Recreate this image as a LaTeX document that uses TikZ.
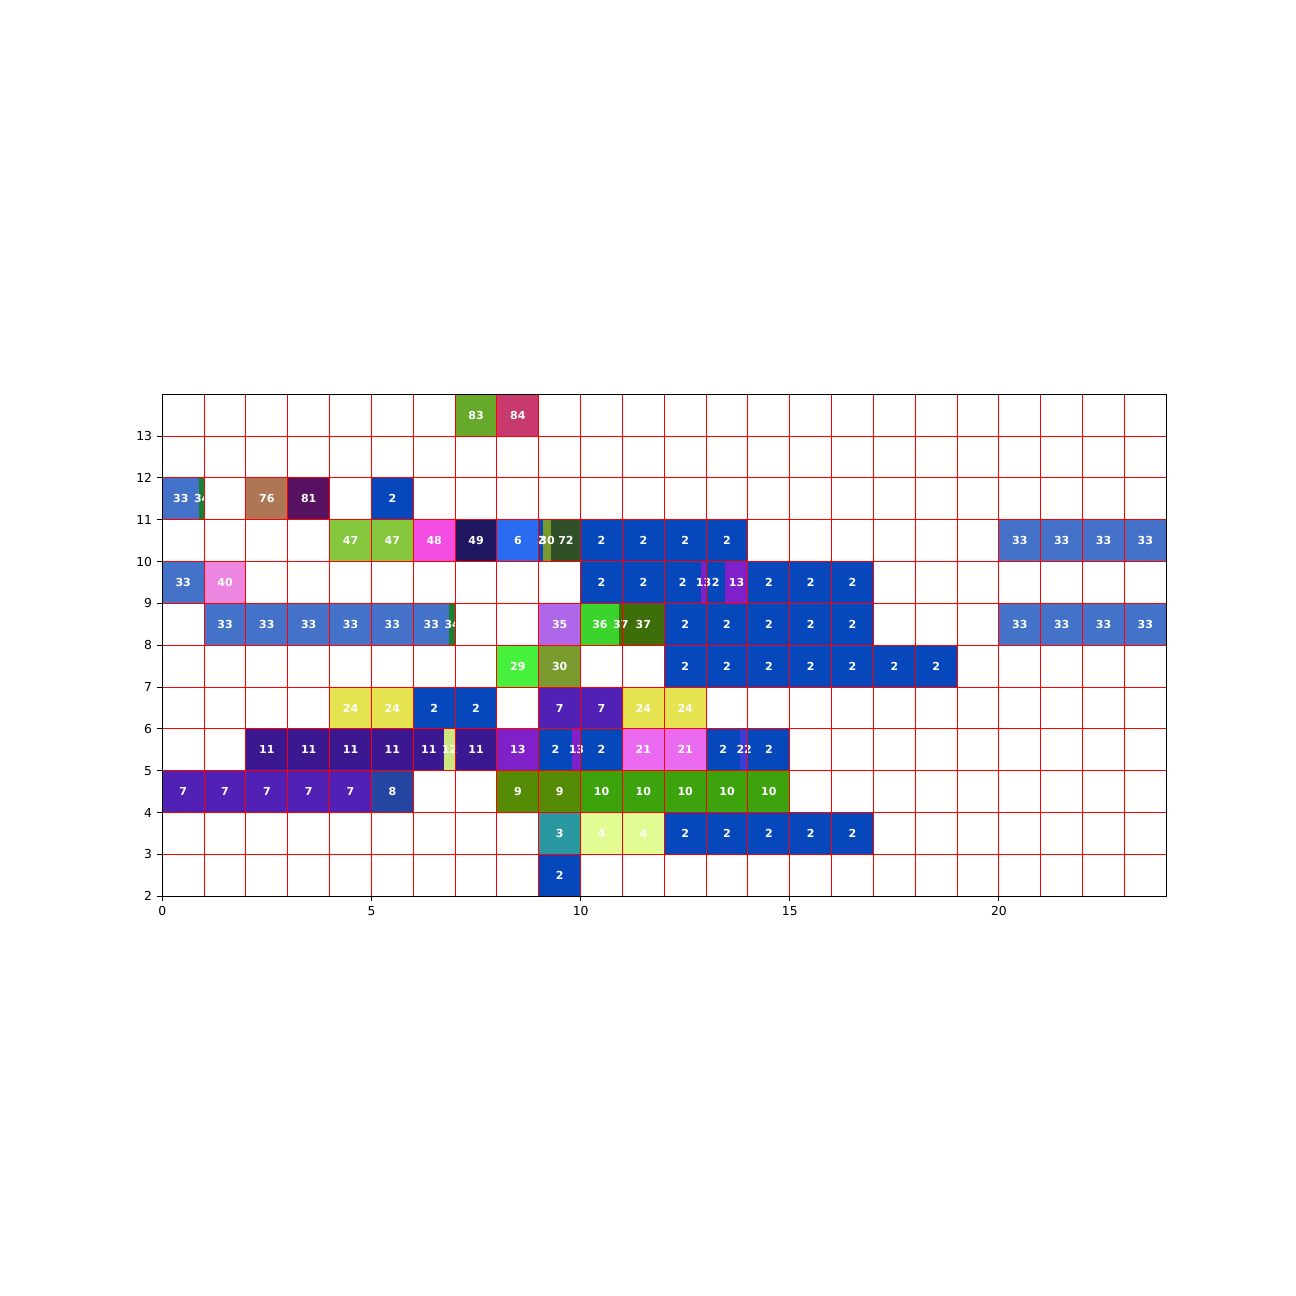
\documentclass[tikz,border=0pt]{standalone}
\usepackage{fontspec}
\setmainfont{DejaVu Sans}
\usetikzlibrary{positioning}

% cell colours, named after the number they carry
\definecolor{c2}{HTML}{0648BB}
\definecolor{c3}{HTML}{2A98A0}
\definecolor{c4}{HTML}{E3FB93}
\definecolor{c6}{HTML}{2B6BEF}
\definecolor{c7}{HTML}{5021B4}
\definecolor{c8}{HTML}{2446A0}
\definecolor{c9}{HTML}{568C05}
\definecolor{c10}{HTML}{3DA30D}
\definecolor{c11}{HTML}{3B1890}
\definecolor{c12}{HTML}{CDE682}
\definecolor{c13}{HTML}{7F20C8}
\definecolor{c21}{HTML}{EA6AF0}
\definecolor{c22}{HTML}{3A3ED8}
\definecolor{c24}{HTML}{E5E34F}
\definecolor{c29}{HTML}{48F03E}
\definecolor{c30}{HTML}{799A2E}
\definecolor{c33}{HTML}{4472C8}
\definecolor{c34}{HTML}{1B7F33}
\definecolor{c35}{HTML}{AF66E8}
\definecolor{c36}{HTML}{3AD42C}
\definecolor{c37}{HTML}{3E6E0A}
\definecolor{c40}{HTML}{ED86DE}
\definecolor{c47}{HTML}{84C63C}
\definecolor{c48}{HTML}{F24DE0}
\definecolor{c49}{HTML}{1E165E}
\definecolor{c72}{HTML}{305028}
\definecolor{c76}{HTML}{AE7655}
\definecolor{c81}{HTML}{561160}
\definecolor{c83}{HTML}{67A92A}
\definecolor{c84}{HTML}{C83A6E}

\pgfdeclarelayer{cells}
\pgfsetlayers{cells,main}

\begin{document}
\begin{tikzpicture}[
  lbl/.style={
    text=white,
    inner sep=0pt,
    font=\fontsize{7.5}{9}\selectfont\bfseries
  },
  gridline/.style={red, line width=0.7pt},
  frame/.style={black, line width=0.7pt},
  tick/.style={black, line width=0.7pt},
  ticklbl/.style={
    inner sep=0pt,
    font=\fontsize{8.4}{10}\selectfont
  }
]

\useasboundingbox (-3.88,-7.555) rectangle (27.10,23.426);
\begin{pgfonlayer}{cells}
  \fill[white] (-3.88,-7.555) rectangle (27.10,23.426);
\end{pgfonlayer}

% ============================================================
% Whole cells: x / y / colour / number
% ============================================================

\foreach \x/\y/\c/\t in {
  7/13/c83/83, 8/13/c84/84,
  2/11/c76/76, 3/11/c81/81, 5/11/c2/2,
  4/10/c47/47, 5/10/c47/47, 6/10/c48/48, 7/10/c49/49, 8/10/c6/6,
  10/10/c2/2, 11/10/c2/2, 12/10/c2/2, 13/10/c2/2,
  20/10/c33/33, 21/10/c33/33, 22/10/c33/33, 23/10/c33/33,
  0/9/c33/33, 1/9/c40/40, 10/9/c2/2, 11/9/c2/2,
  14/9/c2/2, 15/9/c2/2, 16/9/c2/2,
  1/8/c33/33, 2/8/c33/33, 3/8/c33/33, 4/8/c33/33, 5/8/c33/33,
  9/8/c35/35, 11/8/c37/37,
  12/8/c2/2, 13/8/c2/2, 14/8/c2/2, 15/8/c2/2, 16/8/c2/2,
  20/8/c33/33, 21/8/c33/33, 22/8/c33/33, 23/8/c33/33,
  8/7/c29/29, 9/7/c30/30,
  12/7/c2/2, 13/7/c2/2, 14/7/c2/2, 15/7/c2/2, 16/7/c2/2, 17/7/c2/2, 18/7/c2/2,
  4/6/c24/24, 5/6/c24/24, 6/6/c2/2, 7/6/c2/2,
  9/6/c7/7, 10/6/c7/7, 11/6/c24/24, 12/6/c24/24,
  2/5/c11/11, 3/5/c11/11, 4/5/c11/11, 5/5/c11/11, 7/5/c11/11,
  8/5/c13/13, 10/5/c2/2, 11/5/c21/21, 12/5/c21/21, 14/5/c2/2,
  0/4/c7/7, 1/4/c7/7, 2/4/c7/7, 3/4/c7/7, 4/4/c7/7, 5/4/c8/8,
  8/4/c9/9, 9/4/c9/9,
  10/4/c10/10, 11/4/c10/10, 12/4/c10/10, 13/4/c10/10, 14/4/c10/10,
  9/3/c3/3, 10/3/c4/4, 11/3/c4/4,
  12/3/c2/2, 13/3/c2/2, 14/3/c2/2, 15/3/c2/2, 16/3/c2/2,
  9/2/c2/2%
} {
  \begin{pgfonlayer}{cells}
    \fill[\c] (\x,\y) rectangle ++(1,1);
  \end{pgfonlayer}
  \node[lbl] (f-\x-\y) at (\x+0.5,\y+0.5) {\t};
}

% ============================================================
% Split cells: from / to / y / colour / number
% ============================================================

\foreach \a/\b/\y/\c/\t [count=\i] in {
  0/0.885/11/c33/33, 0.885/1/11/c34/34,
  9/9.1/10/c2/2, 9.1/9.3/10/c30/30, 9.3/10/10/c72/72,
  12/12.88/9/c2/2, 12.88/13/9/c13/13, 13/13.46/9/c2/2, 13.46/14/9/c13/13,
  6/6.86/8/c33/33, 6.86/7/8/c34/34,
  10/10.925/8/c36/36, 10.925/11/8/c37/37,
  6/6.74/5/c11/11, 6.74/7/5/c12/12,
  9/9.8/5/c2/2, 9.8/10/5/c13/13,
  13/13.82/5/c2/2, 13.82/14/5/c22/22%
} {
  \begin{pgfonlayer}{cells}
    \fill[\c] (\a,\y) rectangle (\b,\y+1);
  \end{pgfonlayer}
  \node[lbl] (s\i) at ({(\a+\b)/2},\y+0.5) {\t};
}

% ============================================================
% Grid and axes
% ============================================================

\foreach \x in {0,...,24}
  \draw[gridline] (\x,2) -- (\x,14);
\foreach \y in {2,...,14}
  \draw[gridline] (0,\y) -- (24,\y);

\draw[frame] (0,2) rectangle (24,14);

\foreach \x in {0,5,10,15,20} {
  \coordinate (xa\x) at (\x,2);
  \draw[tick] (xa\x) -- ++(0,-0.116) node[ticklbl, below=0.116cm] (xt\x) {\x};
}
\foreach \y in {2,...,13} {
  \coordinate (ya\y) at (0,\y);
  \draw[tick] (ya\y) -- ++(-0.116,0) node[ticklbl, left=0.116cm] (yt\y) {\y};
}

\end{tikzpicture}
\end{document}
